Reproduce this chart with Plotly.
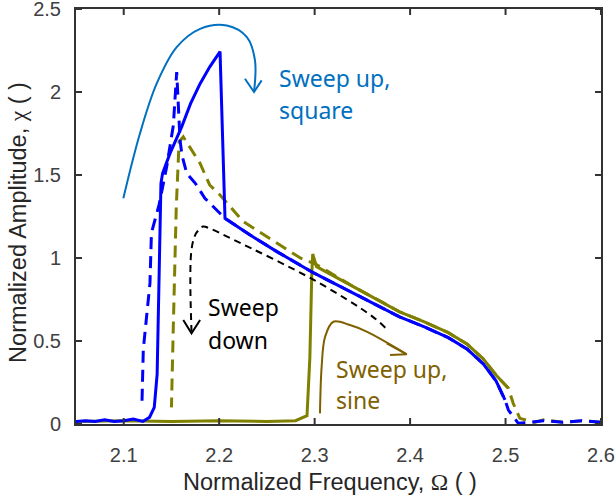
import plotly.graph_objects as go

# ---- measured response curves -------------------------------------------
# Sweep up, square excitation (solid blue)
sq_up_x = [2.05, 2.06, 2.07, 2.08, 2.09, 2.10, 2.11, 2.12, 2.127, 2.132, 2.135,
           2.137, 2.138, 2.139, 2.1407, 2.1485, 2.1607, 2.170, 2.180, 2.190,
           2.2009, 2.2061, 2.232, 2.26, 2.299, 2.34, 2.389, 2.415, 2.44,
           2.46, 2.477, 2.49, 2.4994]
sq_up_y = [0.015, 0.02, 0.015, 0.025, 0.015, 0.02, 0.03, 0.015, 0.04, 0.10, 0.30,
           0.80, 1.20, 1.45, 1.51, 1.63, 1.79, 1.93, 2.05, 2.15,
           2.243, 1.239, 1.14, 1.04, 0.91, 0.79, 0.645, 0.585, 0.52,
           0.45, 0.36, 0.26, 0.145]

# Sweep down, square excitation (dashed blue)
sq_dn_x = [2.60, 2.58, 2.56, 2.54, 2.525, 2.5134, 2.503, 2.4994, 2.49, 2.477,
           2.46, 2.44, 2.415, 2.389, 2.34, 2.299, 2.26, 2.232, 2.2061, 2.199,
           2.185, 2.175, 2.166, 2.161, 2.159, 2.1555, 2.152, 2.145, 2.137,
           2.129, 2.1275, 2.1205, 2.119]
sq_dn_y = [0.01, 0.02, 0.01, 0.02, 0.01, 0.004, 0.084, 0.145, 0.26, 0.36,
           0.45, 0.52, 0.585, 0.645, 0.79, 0.91, 1.04, 1.14, 1.239, 1.28,
           1.36, 1.45, 1.51, 1.62, 1.71, 2.12, 1.80, 1.55, 1.32,
           1.15, 0.85, 0.45, 0.10]

# Sweep up, sine excitation (solid olive)
sin_up_x = [2.05, 2.10, 2.15, 2.20, 2.25, 2.28, 2.292, 2.295, 2.297, 2.298,
            2.302, 2.34, 2.389, 2.415, 2.44, 2.46, 2.477, 2.49, 2.503]
sin_up_y = [0.015, 0.02, 0.015, 0.02, 0.015, 0.02, 0.05, 0.40, 0.90, 1.024,
            0.948, 0.83, 0.676, 0.615, 0.55, 0.48, 0.39, 0.295, 0.215]

# Sweep down, sine excitation (dashed olive)
sin_dn_x = [2.60, 2.58, 2.56, 2.54, 2.53, 2.515, 2.508, 2.503, 2.49, 2.477,
            2.46, 2.44, 2.415, 2.389, 2.34, 2.302, 2.285, 2.255, 2.225, 2.2009,
            2.190, 2.180, 2.170, 2.1624, 2.158, 2.155, 2.152, 2.150]
sin_dn_y = [0.01, 0.02, 0.01, 0.025, 0.01, 0.034, 0.125, 0.215, 0.295, 0.39,
            0.48, 0.55, 0.615, 0.676, 0.83, 0.96, 1.0, 1.11, 1.22, 1.38,
            1.44, 1.57, 1.66, 1.73, 1.70, 1.30, 0.60, 0.10]

# ---- sweep direction arrows ---------------------------------------------
arrow_sq_x = [2.0996, 2.117, 2.1345, 2.1555, 2.18, 2.208, 2.229, 2.2375, 2.2365]
arrow_sq_y = [1.36, 1.75, 2.05, 2.27, 2.38, 2.40, 2.33, 2.19, 2.0]
head_sq_x = [2.227, 2.2365, 2.2445]
head_sq_y = [2.08, 2.0, 2.07]

arrow_dn_x = [2.374, 2.36, 2.30, 2.215, 2.19, 2.183, 2.176, 2.171, 2.171]
arrow_dn_y = [0.58, 0.65, 0.865, 1.11, 1.178, 1.19, 1.15, 1.05, 0.56]
head_dn_x = [2.1624, 2.171, 2.18]
head_dn_y = [0.627, 0.546, 0.627]

arrow_sin_x = [2.3056, 2.3074, 2.311, 2.3196, 2.337, 2.3545, 2.3965]
arrow_sin_y = [0.064, 0.35, 0.526, 0.616, 0.596, 0.556, 0.42]
head_sin_x = [2.3755, 2.3965, 2.379]
head_sin_y = [0.486, 0.42, 0.416]

x_ticks = [2.1, 2.2, 2.3, 2.4, 2.5, 2.6]
y_ticks = [0, 0.5, 1, 1.5, 2, 2.5]
y_tick_text = ["0", "0.5", "1", "1.5", "2", "2.5"]

X_RANGE = [2.05, 2.6]
Y_RANGE = [0, 2.5]

BLUE = "#0000ff"
OLIVE = "#808000"
ARROW_BLUE = "#0070c0"
ARROW_BROWN = "#7f6000"
AXIS_GRAY = "#333333"

fig = go.Figure()


def line(x, y, color, width, dash="solid", shape="linear"):
    fig.add_trace(go.Scatter(x=x, y=y, mode="lines", hoverinfo="skip",
                             line=dict(color=color, width=width, dash=dash,
                                       shape=shape)))


line(sin_up_x, sin_up_y, OLIVE, 3)
line(sin_dn_x, sin_dn_y, OLIVE, 3, dash="12px,7px")
line(sq_up_x, sq_up_y, BLUE, 3)
line(sq_dn_x, sq_dn_y, BLUE, 3, dash="12px,7px")

line(arrow_sq_x, arrow_sq_y, ARROW_BLUE, 2, shape="spline")
line(head_sq_x, head_sq_y, ARROW_BLUE, 2)
line(arrow_dn_x, arrow_dn_y, "black", 2, dash="7px,5px", shape="spline")
line(head_dn_x, head_dn_y, "black", 2)
line(arrow_sin_x, arrow_sin_y, ARROW_BROWN, 2, shape="spline")
line(head_sin_x, head_sin_y, ARROW_BROWN, 2)

# inward tick marks on all four sides, 6 px long
PLOT_W, PLOT_H = 616 - 76 - 15, 500 - 9 - 76
dx = 6 / PLOT_W * (X_RANGE[1] - X_RANGE[0])
dy = 6 / PLOT_H * (Y_RANGE[1] - Y_RANGE[0])
tick_x, tick_y = [], []
for xv in x_ticks:
    tick_x += [xv, xv, None, xv, xv, None]
    tick_y += [Y_RANGE[0], Y_RANGE[0] + dy, None, Y_RANGE[1], Y_RANGE[1] - dy, None]
for yv in y_ticks:
    tick_x += [X_RANGE[0], X_RANGE[0] + dx, None, X_RANGE[1], X_RANGE[1] - dx, None]
    tick_y += [yv, yv, None, yv, yv, None]
line(tick_x, tick_y, AXIS_GRAY, 2)

LABEL_FONT = "Noto Sans"


def label(text, x, y, color):
    fig.add_annotation(x=x, y=y, text=text, showarrow=False, xanchor="left",
                       yanchor="middle",
                       font=dict(family=LABEL_FONT, size=23, color=color))


label("Sweep up,", 2.2610, 2.087, ARROW_BLUE)
label("square", 2.2610, 1.889, ARROW_BLUE)
label("Sweep", 2.1860, 0.702, "black")
label("down", 2.1860, 0.509, "black")
label("Sweep up,", 2.3200, 0.331, ARROW_BROWN)
label("sine", 2.3200, 0.1416, ARROW_BROWN)

# axis titles (placed in paper coordinates below / left of the frame)
SERIF = "<span style='font-family:Liberation Serif'>{}</span>"
TITLE_FONT = dict(family="Liberation Sans", size=23.5, color="#262626")
fig.add_annotation(xref="paper", yref="paper", x=0.484, y=-0.140,
                   xanchor="center", yanchor="middle", showarrow=False,
                   text="Normalized Frequency, " + SERIF.format("\u03a9") + " ( )",
                   font=TITLE_FONT)
fig.add_annotation(xref="paper", yref="paper", x=-0.1105, y=0.487,
                   xanchor="center", yanchor="middle", showarrow=False,
                   textangle=-90,
                   text="Normalized Amplitude, " + SERIF.format("\u03c7") + " ( )",
                   font=TITLE_FONT)

axis_common = dict(showgrid=False, zeroline=False, showline=True,
                   linecolor=AXIS_GRAY, linewidth=2, mirror="ticks",
                   ticks="outside", ticklen=8, tickcolor="white", tickwidth=2,
                   ticklabeloverflow="allow", automargin=False,
                   tickfont=dict(family="Liberation Sans", size=20,
                                 color="#404040"))

fig.update_xaxes(range=X_RANGE, tickvals=x_ticks,
                 ticktext=[f"{v:.1f}" for v in x_ticks],
                 ticklabelstandoff=4, **axis_common)
fig.update_yaxes(range=Y_RANGE, tickvals=y_ticks, ticktext=y_tick_text,
                 ticklabelstandoff=1, **axis_common)

fig.update_layout(width=616, height=500, showlegend=False,
                  margin=dict(l=76, r=15, t=9, b=76),
                  plot_bgcolor="white", paper_bgcolor="white")

fig.write_html("out.html")
